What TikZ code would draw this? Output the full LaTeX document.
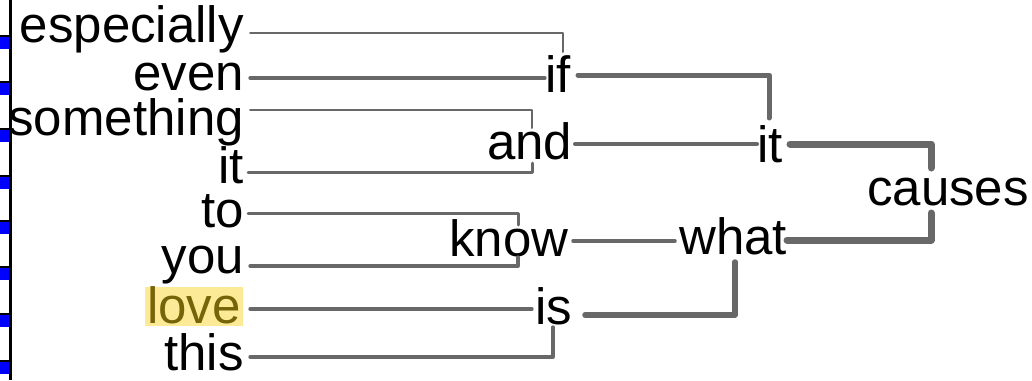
\documentclass[tikz,border=0pt]{standalone}
\usepackage{fontspec}
\setmainfont{Liberation Sans}
\definecolor{deptree}{RGB}{104,104,104}
\definecolor{hlback}{RGB}{252,234,150}
\definecolor{hltext}{RGB}{118,100,8}
\begin{document}
\begin{tikzpicture}[x=1pt,y=-1pt,font=\fontsize{51}{60}\selectfont,
  word/.style={inner sep=0pt,anchor=base east},
  head/.style={inner sep=0pt,anchor=base west},
  dep/.style={draw=deptree,line cap=round,line join=round}]
  \useasboundingbox (0,0) rectangle (1032,380);
  % token column on the left
  \draw[line width=3pt] (10.5,0)--(10.5,380);
  \foreach \t in {37,83,130,177,222,268,315,362}{
    \fill (0,\t-2) rectangle (10,\t);
    \fill[blue] (0,\t) rectangle (9,\t+12);
  }
  % words
  \node[word] (especially) at (244,42) {especially};
  \node[word] (even) at (244,90) {even};
  \node[word] (something) at (244,135) {something};
  \node[word] (it1) at (244,183) {it};
  \node[word] (to) at (244,227) {to};
  \node[word] (you) at (244,273) {you};
  \node[word,fill=hlback,text=hltext,inner xsep=2pt,text height=36pt,text depth=3pt] (love) at (243,323) {love};
  \node[word] (this) at (244,370) {this};
  % heads
  \node[head] (if) at (545,92) {if};
  \node[head] (and) at (487,159) {and};
  \node[head] (know) at (449,256) {know};
  \node[head] (is) at (535,324) {is};
  \node[head] (it2) at (757,162) {it};
  \node[head] (what) at (679,254) {what};
  \node[head] (causes) at (867,205) {causes};
  % arcs
  \draw[dep,line width=2pt] ([shift={(6,-9)}]especially.base east) -| ([shift={(18,-40)}]if.base west);
  \draw[dep,line width=3.3pt] ([shift={(6,-12)}]even.base east) -- ([shift={(0,-14)}]if.base west);
  \draw[dep,line width=2pt] ([shift={(6,-25)}]something.base east) -| ([shift={(45,-31)}]and.base west);
  \draw[dep,line width=3pt] ([shift={(4,-11)}]it1.base east) -| ([shift={(45,4)}]and.base west);
  \draw[dep,line width=3pt] ([shift={(4,-14)}]to.base east) -| ([shift={(69,-31)}]know.base west);
  \draw[dep,line width=3.3pt] ([shift={(6,-7)}]you.base east) -| ([shift={(69,1)}]know.base west);
  \draw[dep,line width=3.3pt] ([shift={(7,-14)}]love.base east) -- ([shift={(-3,-15)}]is.base west);
  \draw[dep,line width=3.3pt] ([shift={(6,-13)}]this.base east) -| ([shift={(18,3)}]is.base west);
  \draw[dep,line width=5pt] ([shift={(33,-17)}]if.base west) -| ([shift={(12,-44)}]it2.base west);
  \draw[dep,line width=4pt] ([shift={(88,-15)}]and.base west) -- ([shift={(0,-18)}]it2.base west);
  \draw[dep,line width=7pt] ([shift={(33,-18)}]it2.base west) -| ([shift={(64,-37)}]causes.base west);
  \draw[dep,line width=7pt] ([shift={(108,-14)}]what.base west) -| ([shift={(64,8)}]causes.base west);
  \draw[dep,line width=3.5pt] ([shift={(124,-15)}]know.base west) -- ([shift={(-4,-13)}]what.base west);
  \draw[dep,line width=5.5pt] ([shift={(50,-9)}]is.base west) -| ([shift={(56,8)}]what.base west);
\end{tikzpicture}
\end{document}
